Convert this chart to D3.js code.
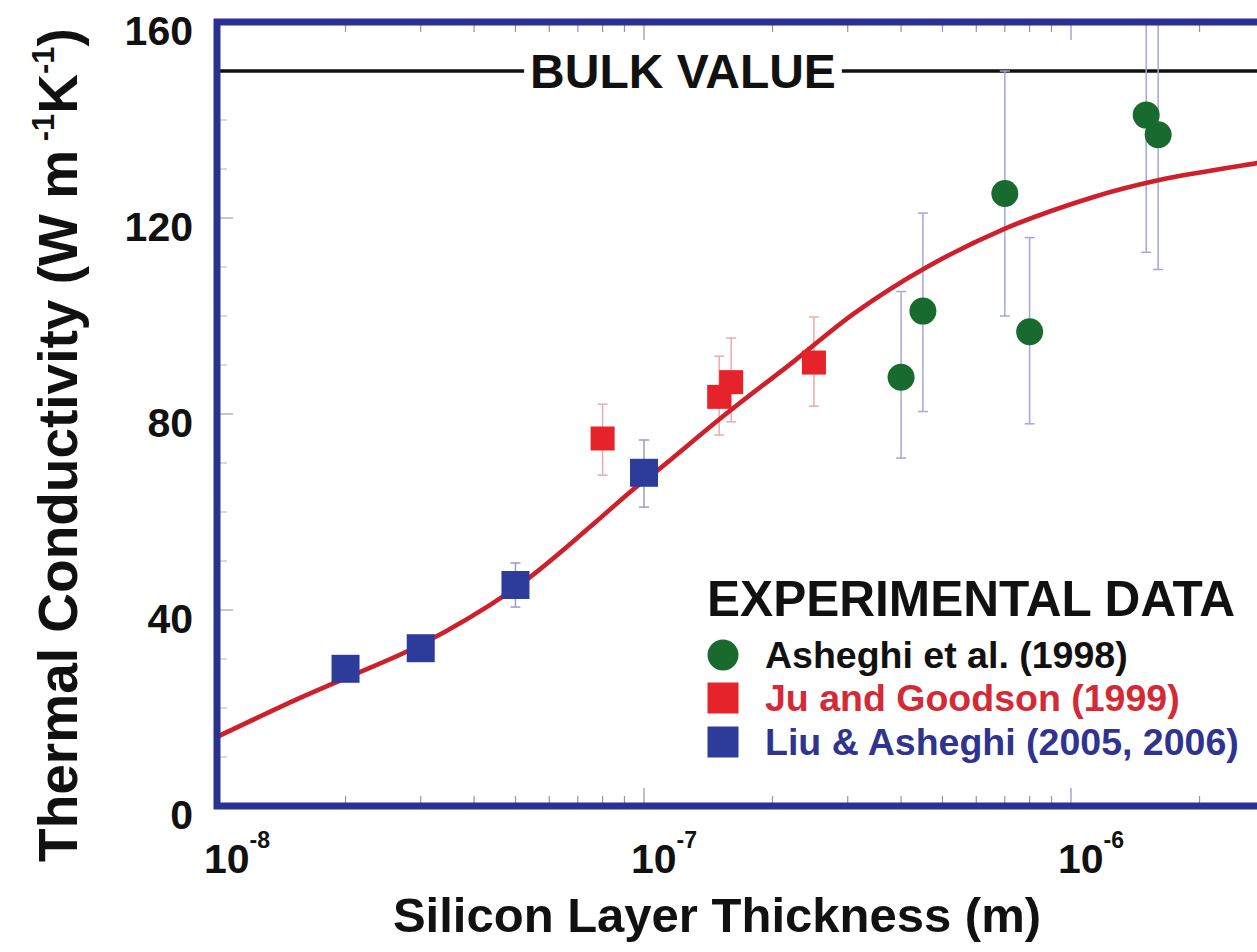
<!DOCTYPE html>
<html>
<head>
<meta charset="utf-8">
<script src="https://cdn.jsdelivr.net/npm/d3@7"></script>
<style>
  html, body { margin: 0; padding: 0; background: #ffffff; }
  svg { display: block; }
  text { font-family: "Liberation Sans", Arial, Helvetica, sans-serif; font-weight: bold; }
</style>
</head>
<body>
<svg id="chart" width="1257" height="952"></svg>
<script>
// ---- Experimental data: thermal conductivity of silicon layers ----
// Asheghi et al. (1998)
const asheghiThickness = [4.0e-7, 4.5e-7, 7.0e-7, 8.0e-7, 1.5e-6, 1.6e-6];
const asheghiK         = [87.5, 101, 125, 96.8, 141, 137];
const asheghiLow       = [71, 80.5, 100, 78, 113, 109.5];
const asheghiHigh      = [105, 121, 150, 116, 172, 168];

// Ju and Goodson (1999)
const juThickness = [8.0e-8, 1.5e-7, 1.6e-7, 2.5e-7];
const juK         = [75, 83.5, 86.5, 90.5];
const juLow       = [67.5, 75.7, 78.4, 81.6];
const juHigh      = [82, 91.8, 95.5, 99.8];

// Liu & Asheghi (2005, 2006)
const liuThickness = [2.0e-8, 3.0e-8, 5.0e-8, 1.0e-7];
const liuK         = [28, 32.2, 45.1, 68];
const liuLow       = [26, 30, 40.6, 61];
const liuHigh      = [30, 34.5, 49.6, 74.7];

// Model prediction (red curve)
const modelThickness = [1.0e-8, 1.56e-8, 2.0e-8, 3.0e-8, 5.0e-8, 7.6e-8, 9.4e-8, 1.09e-7,
                        1.56e-7, 2.24e-7, 3.1e-7, 4.6e-7, 6.9e-7, 1.13e-6, 1.62e-6, 2.73e-6, 3.3e-6];
const modelK         = [14.1, 22.0, 26.1, 32.9, 44.5, 57.5, 64.5, 68.9,
                        80.1, 90.7, 100.5, 110, 117.6, 124.3, 127.8, 131.2, 132.4];

const bulkK = 150;
const yTicks = [0, 40, 80, 120, 160];
const yMinorTicks = d3.range(10, 160, 10);
const xTickExponents = [-8, -7, -6];

const legendTitle = "EXPERIMENTAL DATA";
const seriesNames = ["Asheghi et al. (1998)", "Ju and Goodson (1999)", "Liu & Asheghi (2005, 2006)"];

// ---- Layout ----
const frameColor = "#2b3191";
const plotLeft = 217, plotTop = 22, plotBottom = 806, decade = 427;

const svg = d3.select("#chart");

const x = d3.scaleLog().domain([1e-8, 1e-6]).range([plotLeft, plotLeft + 2 * decade]);
const y = d3.scaleLinear().domain([0, 160]).range([plotBottom, plotTop]);

svg.append("defs").append("clipPath").attr("id", "plotClip")
  .append("rect").attr("x", plotLeft).attr("y", plotTop)
  .attr("width", 1200).attr("height", plotBottom - plotTop);

const plot = svg.append("g").attr("clip-path", "url(#plotClip)");

// minor / major y ticks along the left frame
plot.append("g").selectAll("line").data(yMinorTicks.concat(yTicks)).join("line")
  .attr("x1", plotLeft).attr("x2", d => plotLeft + (d % 40 === 0 ? 16 : 10))
  .attr("y1", d => y(d)).attr("y2", d => y(d))
  .attr("stroke", "#b4b4b4").attr("stroke-width", 1);

// log ticks on bottom and top edges
const logTicks = [];
for (let e = -8; e <= -6; e++) {
  for (let m = 1; m <= 9; m++) logTicks.push({ v: m * Math.pow(10, e), major: m === 1 });
}
const tickG = plot.append("g");
tickG.selectAll("line.b").data(logTicks).join("line").attr("class", "b")
  .attr("x1", d => x(d.v)).attr("x2", d => x(d.v))
  .attr("y1", plotBottom).attr("y2", d => plotBottom - (d.major ? 18 : 10))
  .attr("stroke", "#8c91c4").attr("stroke-width", 1.2);
tickG.selectAll("line.t").data(logTicks).join("line").attr("class", "t")
  .attr("x1", d => x(d.v)).attr("x2", d => x(d.v))
  .attr("y1", plotTop).attr("y2", d => plotTop + (d.major ? 18 : 10))
  .attr("stroke", "#8c91c4").attr("stroke-width", 1.2);

// bulk value reference line with a gap for its label
const bulkLabel = svg.append("text")
  .attr("x", 683).attr("y", y(bulkK) + 17)
  .attr("text-anchor", "middle").attr("font-size", 48).attr("fill", "#111")
  .text("BULK VALUE");
const bb = bulkLabel.node().getBBox();
plot.append("line").attr("x1", plotLeft).attr("x2", bb.x - 6)
  .attr("y1", y(bulkK)).attr("y2", y(bulkK)).attr("stroke", "#111").attr("stroke-width", 3.5);
plot.append("line").attr("x1", bb.x + bb.width + 6).attr("x2", 1300)
  .attr("y1", y(bulkK)).attr("y2", y(bulkK)).attr("stroke", "#111").attr("stroke-width", 3.5);

// error bars
function errorBars(xs, lows, highs, color) {
  const g = plot.append("g").attr("stroke", color).attr("stroke-width", 1.5);
  xs.forEach((t, i) => {
    const cx = x(t);
    g.append("line").attr("x1", cx).attr("x2", cx).attr("y1", y(lows[i])).attr("y2", y(highs[i]));
    g.append("line").attr("x1", cx - 5).attr("x2", cx + 5).attr("y1", y(lows[i])).attr("y2", y(lows[i]));
    g.append("line").attr("x1", cx - 5).attr("x2", cx + 5).attr("y1", y(highs[i])).attr("y2", y(highs[i]));
  });
}
errorBars(asheghiThickness, asheghiLow, asheghiHigh, "#a5a5dc");
errorBars(juThickness, juLow, juHigh, "#eeaaaa");
errorBars(liuThickness, liuLow, liuHigh, "#9a9ad0");

// model curve
const line = d3.line()
  .x((d, i) => x(modelThickness[i]))
  .y(d => y(d))
  .curve(d3.curveCatmullRom.alpha(0.5));
plot.append("path").datum(modelK)
  .attr("d", line).attr("fill", "none")
  .attr("stroke", "#cf1f2a").attr("stroke-width", 4.6);

// data markers
const green = "#186a2e", red = "#e6222b", blue = "#2d3c9b";
plot.append("g").selectAll("circle").data(asheghiK).join("circle")
  .attr("cx", (d, i) => x(asheghiThickness[i])).attr("cy", d => y(d))
  .attr("r", 13.5).attr("fill", green);
plot.append("g").selectAll("rect").data(juK).join("rect")
  .attr("x", (d, i) => x(juThickness[i]) - 12).attr("y", d => y(d) - 12)
  .attr("width", 24).attr("height", 24).attr("fill", red);
plot.append("g").selectAll("rect").data(liuK).join("rect")
  .attr("x", (d, i) => x(liuThickness[i]) - 14).attr("y", d => y(d) - 14)
  .attr("width", 28).attr("height", 28).attr("fill", blue);

// plot frame
svg.append("rect").attr("x", plotLeft).attr("y", plotTop)
  .attr("width", 1200).attr("height", plotBottom - plotTop)
  .attr("fill", "none").attr("stroke", frameColor).attr("stroke-width", 7);

// y axis labels
const yAxis = svg.append("g").attr("transform", `translate(${plotLeft - 24},0)`)
  .call(d3.axisLeft(y).tickValues(yTicks).tickSize(0).tickPadding(0).tickFormat(d3.format("d")));
yAxis.select(".domain").remove();
yAxis.selectAll("text")
  .attr("font-size", 41).attr("fill", "#111").attr("dy", "0.55em")
  .style("font-family", "'Liberation Sans', Arial, sans-serif").style("font-weight", "bold");

// x axis labels: powers of ten
const xLabels = svg.append("g").selectAll("text").data(xTickExponents).join("text")
  .attr("x", d => x(Math.pow(10, d)) - 13).attr("y", 873)
  .attr("font-size", 41).attr("fill", "#111");
xLabels.append("tspan").text("10");
xLabels.append("tspan").attr("font-size", 23).attr("dy", -25).text(d => String(d));

// axis titles
svg.append("text")
  .attr("x", 717).attr("y", 932).attr("text-anchor", "middle")
  .attr("font-size", 49).attr("fill", "#111")
  .text("Silicon Layer Thickness (m)");

const yTitle = svg.append("text")
  .attr("transform", "translate(77,445) rotate(-90)")
  .attr("text-anchor", "middle").attr("font-size", 55).attr("fill", "#111");
yTitle.append("tspan").text("Thermal Conductivity (W m");
yTitle.append("tspan").attr("font-size", 31).attr("dy", -23).text(" -1");
yTitle.append("tspan").attr("dy", 23).text("K");
yTitle.append("tspan").attr("font-size", 31).attr("dy", -23).text("-1");
yTitle.append("tspan").attr("dy", 23).text(")");

// legend: title sized to span its column
const legend = svg.append("g");
const legendHead = legend.append("text").attr("x", 707).attr("y", 616)
  .attr("font-size", 50).attr("fill", "#111").text(legendTitle);
const headWidth = legendHead.node().getComputedTextLength();
legendHead.attr("font-size", 50 * 528 / headWidth);

const legendColors = [green, red, blue];
const legendTextColors = ["#111111", "#d42a35", "#2e3490"];
const legendBase = [668, 711, 755];
seriesNames.forEach((name, i) => {
  const cy = legendBase[i] - 13;
  if (i === 0) {
    legend.append("circle").attr("cx", 723).attr("cy", cy).attr("r", 15.5).attr("fill", legendColors[i]);
  } else {
    legend.append("rect").attr("x", 723 - 15.5).attr("y", cy - 15.5)
      .attr("width", 31).attr("height", 31).attr("fill", legendColors[i]);
  }
  legend.append("text").attr("x", 765).attr("y", legendBase[i])
    .attr("font-size", 37.5).attr("fill", legendTextColors[i]).text(name);
});
</script>
</body>
</html>
